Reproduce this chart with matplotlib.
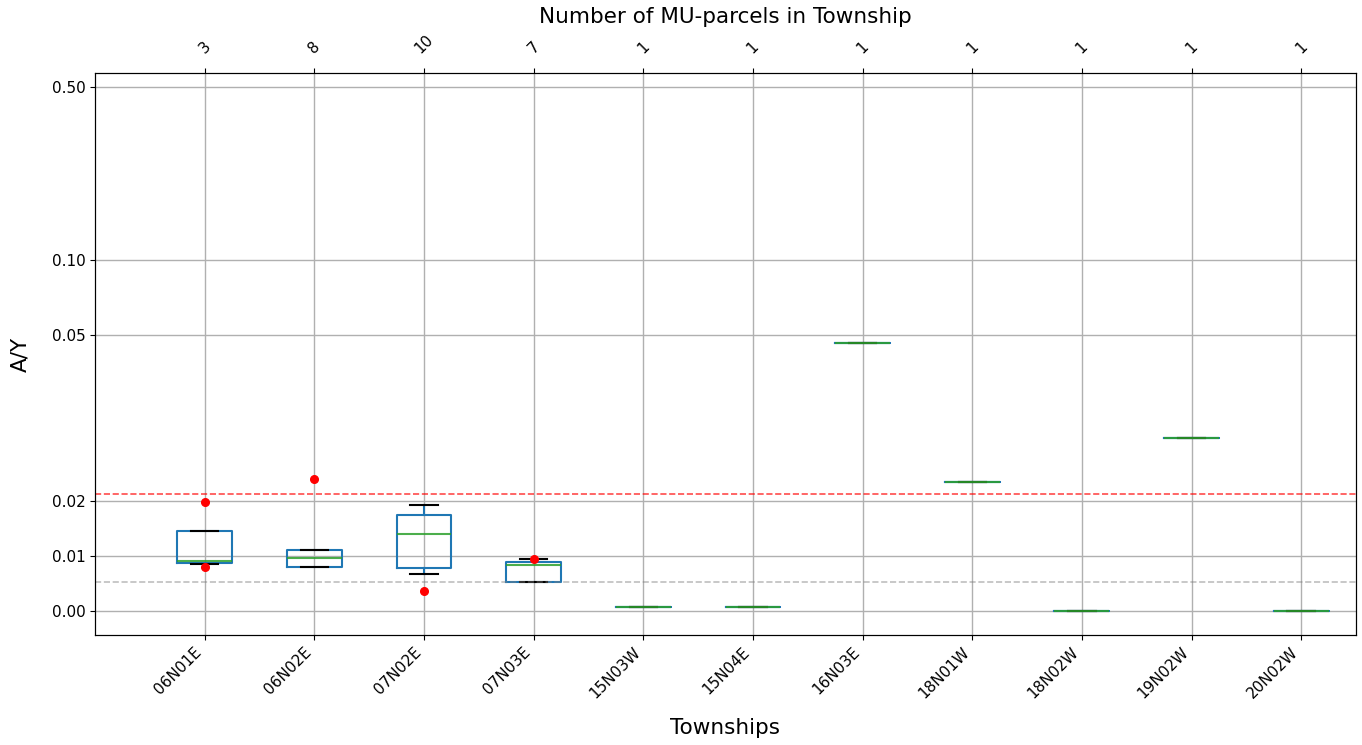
import matplotlib
matplotlib.use("Agg")
import matplotlib.pyplot as plt
from matplotlib.ticker import FixedLocator, FormatStrFormatter, NullLocator

# Township box statistics (A/Y)
townships = ["06N01E", "06N02E", "07N02E", "07N03E", "15N03W", "15N04E",
             "16N03E", "18N01W", "18N02W", "19N02W", "20N02W"]
n_parcels = [3, 8, 10, 7, 1, 1, 1, 1, 1, 1, 1]
q1 = [0.0086, 0.0080, 0.0077, 0.0052, 0.0006, 0.0006, 0.0486, 0.0233, 0.0, 0.0313, 0.0]
med = [0.0091, 0.0096, 0.0140, 0.0083, 0.0006, 0.0006, 0.0486, 0.0233, 0.0, 0.0313, 0.0]
q3 = [0.0144, 0.0110, 0.0173, 0.0088, 0.0006, 0.0006, 0.0486, 0.0233, 0.0, 0.0313, 0.0]
whislo = [0.0085, 0.0080, 0.0066, 0.0052, 0.0006, 0.0006, 0.0486, 0.0233, 0.0, 0.0313, 0.0]
whishi = [0.0144, 0.0110, 0.0192, 0.0094, 0.0006, 0.0006, 0.0486, 0.0233, 0.0, 0.0313, 0.0]
fliers = [[0.0198, 0.0080], [0.0239], [0.0036], [0.0094], [], [], [], [], [], [], []]

upper_ref = 0.0212
lower_ref = 0.0052

stats = []
for i in range(len(townships)):
    stats.append(dict(label=townships[i], med=med[i], q1=q1[i], q3=q3[i],
                      whislo=whislo[i], whishi=whishi[i], fliers=fliers[i]))

fig = plt.figure(figsize=(13.62, 7.45), dpi=100)
ax = fig.add_axes([95 / 1362, 110 / 745, 1261 / 1362, 562 / 745])

positions = list(range(1, len(townships) + 1))
ax.bxp(stats, positions=positions, widths=0.5,
       boxprops=dict(color="#1f77b4", lw=1.5),
       whiskerprops=dict(color="#1f77b4", lw=1.5),
       capprops=dict(color="k", lw=1.5),
       medianprops=dict(color="#2ca02c", lw=1.5, alpha=0.85),
       flierprops=dict(marker="o", markerfacecolor="red", markeredgecolor="red",
                       markersize=5.5, linestyle="none"))

ax.axhline(upper_ref, color="red", linestyle="--", alpha=0.7, lw=1.2)
ax.axhline(lower_ref, color="gray", linestyle="--", alpha=0.5, lw=1.2)

ax.set_yscale("symlog", linthresh=0.05, linscale=1)
ax.set_ylim(-0.0044, 0.57)
ax.yaxis.set_major_locator(FixedLocator([0.0, 0.01, 0.02, 0.05, 0.1, 0.5]))
ax.yaxis.set_major_formatter(FormatStrFormatter("%.2f"))
ax.yaxis.set_minor_locator(NullLocator())

ax.set_xlim(0, 11.5)
ax.set_xticks(positions)
ax.set_xticklabels(townships, rotation=45, ha="right", fontsize=11)
ax.tick_params(axis="y", labelsize=11)
ax.grid(True, color="#b0b0b0", lw=1.0)
ax.set_axisbelow(True)
ax.set_xlabel("Townships", fontsize=15.5, labelpad=12)
ax.set_ylabel("A/Y", fontsize=15.5, labelpad=15)

top = ax.twiny()
top.set_xlim(ax.get_xlim())
top.set_xticks(positions)
top.set_xticklabels([str(n) for n in n_parcels], rotation=45, fontsize=11)
top.tick_params(axis="x", pad=9)
top.set_xlabel("Number of MU-parcels in Township", fontsize=15.5, labelpad=6)

fig.savefig("out.png", dpi=100)
